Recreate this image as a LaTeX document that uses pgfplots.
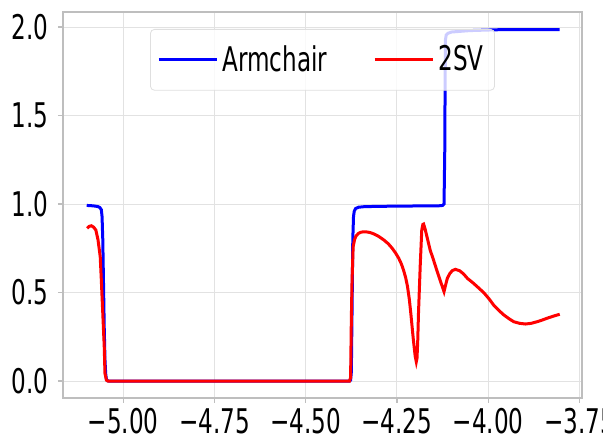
\documentclass[border=0pt]{standalone}
\usepackage{fontspec}
\setmainfont{DejaVu Sans}[FakeStretch=0.68]
\usepackage{pgfplots}
\pgfplotsset{compat=1.18}
\definecolor{spinegray}{RGB}{190,190,190}
\definecolor{gridgray}{RGB}{226,226,226}

\begin{document}
\begin{tikzpicture}
\begin{axis}[
scale only axis,
width=259.5pt,height=193pt,
xmin=-5.165,xmax=-3.743,ymin=-0.096,ymax=2.085,
xtick={-5,-4.75,-4.5,-4.25,-4,-3.75},
xticklabels={−5.00,−4.75,−4.50,−4.25,−4.00,−3.75},
ytick={0,0.5,1,1.5,2},
yticklabels={0.0,0.5,1.0,1.5,2.0},
tick label style={font=\fontsize{17}{20}\selectfont,black},
xticklabel style={anchor=base,inner sep=0pt,yshift=-15.4pt},
yticklabel style={inner sep=0pt,xshift=-4.7pt},
tick align=outside,tick pos=left,
major tick length=2.5pt,
tick style={spinegray,line width=0.6pt},
axis line style={spinegray,line width=0.8pt},
grid=major,
major grid style={gridgray,line width=0.5pt},
legend columns=2,
legend style={at={(0.5,0.956)},anchor=north,
  draw=gray!25,rounded corners=2pt,fill=white,fill opacity=0.8,text opacity=1,
  font=\fontsize{17}{20}\selectfont,
  inner xsep=3.5pt,inner ysep=6pt,
  /tikz/every even column/.append style={column sep=21pt}},
legend image code/.code={\draw[#1,line width=1.5pt] (0pt,0pt) -- (25pt,0pt);
  \path (0pt,0pt) -- (29pt,0pt);},
]
\addplot[blue,line width=1.5pt] coordinates {
(-5.100,0.992) (-5.090,0.991) (-5.080,0.989) (-5.070,0.986) (-5.064,0.980)
(-5.060,0.968) (-5.058,0.93) (-5.056,0.80) (-5.054,0.55) (-5.052,0.30)
(-5.050,0.12) (-5.048,0.04) (-5.046,0.01) (-5.044,0.002) (-5.040,0)
(-4.380,0) (-4.377,0.005) (-4.375,0.05) (-4.373,0.4) (-4.371,0.80)
(-4.369,0.93) (-4.367,0.96) (-4.363,0.975) (-4.355,0.982) (-4.340,0.985)
(-4.300,0.987) (-4.200,0.989) (-4.135,0.990) (-4.125,0.992) (-4.121,1.00)
(-4.119,1.3) (-4.118,1.7) (-4.117,1.93) (-4.115,1.955) (-4.110,1.965)
(-4.100,1.972) (-4.050,1.980) (-3.970,1.985) (-3.804,1.986)
};
\addlegendentry{Armchair}
\addplot[red,line width=1.5pt] coordinates {
(-5.099,0.863) (-5.093,0.874) (-5.087,0.877) (-5.081,0.869) (-5.075,0.853)
(-5.069,0.797) (-5.063,0.702) (-5.060,0.571) (-5.056,0.382) (-5.052,0.194)
(-5.050,0.043) (-5.046,0.005) (-5.042,0)
(-4.380,0) (-4.377,0.02) (-4.375,0.345) (-4.373,0.57) (-4.370,0.759)
(-4.366,0.800) (-4.362,0.820) (-4.356,0.833) (-4.350,0.840) (-4.342,0.843)
(-4.335,0.843) (-4.324,0.839) (-4.313,0.831) (-4.300,0.817) (-4.286,0.797)
(-4.274,0.776) (-4.263,0.750) (-4.254,0.724) (-4.245,0.693) (-4.238,0.662)
(-4.232,0.627) (-4.226,0.583) (-4.221,0.533) (-4.216,0.460) (-4.212,0.382)
(-4.205,0.232) (-4.200,0.140) (-4.197,0.109) (-4.195,0.130) (-4.193,0.230)
(-4.191,0.382) (-4.186,0.665) (-4.182,0.853) (-4.179,0.885) (-4.177,0.887)
(-4.173,0.860) (-4.166,0.800) (-4.159,0.740) (-4.150,0.685) (-4.141,0.627)
(-4.131,0.565) (-4.121,0.505) (-4.117,0.540) (-4.112,0.580) (-4.105,0.608)
(-4.098,0.624) (-4.090,0.631) (-4.078,0.623) (-4.067,0.604) (-4.057,0.580)
(-4.043,0.557) (-4.030,0.533) (-4.012,0.499) (-3.998,0.465) (-3.985,0.429)
(-3.971,0.399) (-3.957,0.373) (-3.943,0.352) (-3.930,0.335) (-3.914,0.326)
(-3.898,0.322) (-3.882,0.326) (-3.866,0.335) (-3.850,0.346) (-3.834,0.358)
(-3.819,0.368) (-3.804,0.377)
};
\addlegendentry{2SV}
\end{axis}
\pgfresetboundingbox
\path[use as bounding box] ([shift={(-31.5pt,-21pt)}]current axis.south west) rectangle ([shift={(10.5pt,6pt)}]current axis.north east);
\end{tikzpicture}
\end{document}
